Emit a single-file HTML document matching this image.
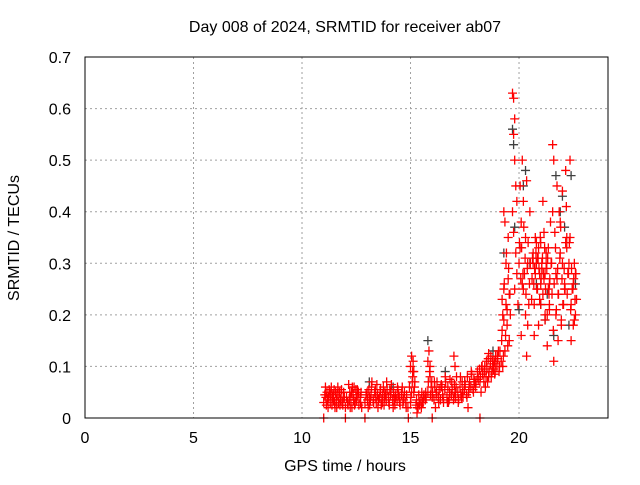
<!DOCTYPE html>
<html><head><meta charset="utf-8"><style>
body{margin:0;background:#fff;}
svg text{font-family:"Liberation Sans",sans-serif;font-size:16px;fill:#000;}
</style></head><body>
<svg id="chart" width="640" height="480" xmlns="http://www.w3.org/2000/svg">
<text x="345" y="32" text-anchor="middle">Day 008 of 2024, SRMTID for receiver ab07</text>
<text x="345" y="471" text-anchor="middle">GPS time / hours</text>
<text transform="translate(19,238) rotate(-90)" text-anchor="middle">SRMTID / TECUs</text>
<g id="grid"></g><g id="ticks"></g><g id="grey"></g><g id="red"></g>
<rect x="85" y="57" width="523" height="361" fill="none" stroke="#000" stroke-width="1"/>
</svg>
<script>
const xTicks=[0,5,10,15,20];
const yTicks=[0,0.1,0.2,0.3,0.4,0.5,0.6,0.7];
const yTickLabels=["0","0.1","0.2","0.3","0.4","0.5","0.6","0.7"];
// red series [hour, TECU]
const redT=[11.0,11.1,11.15,11.2,11.3,11.35,11.4,11.5,11.55,11.6,11.7,11.8,11.85,11.9,12.0,11.25,11.45,11.65,11.75,
12.1,12.2,12.25,12.3,12.4,12.45,12.5,12.6,12.7,12.75,12.15,12.35,12.55,
12.9,13.0,13.05,13.1,13.2,13.3,13.35,13.4,13.5,13.6,13.7,13.75,13.8,13.9,14.0,14.1,14.2,14.3,14.4,14.5,14.6,14.7,14.8,13.15,13.45,13.65,13.85,14.05,14.25,14.45,14.65,
14.95,15.0,15.05,15.1,15.15,15.2,15.0,15.1,15.3,15.4,15.5,15.6,15.7,15.35,15.55,
15.8,15.85,15.9,15.95,15.8,15.9,16.0,16.1,16.2,16.3,16.4,16.5,16.6,16.7,16.8,16.9,17.0,17.1,17.2,17.3,17.4,17.5,17.6,17.7,17.8,17.9,16.15,16.45,16.75,17.05,17.35,17.65,17.95,17.0,17.05,
18.0,18.1,18.2,18.3,18.4,18.5,18.6,18.7,18.8,18.9,19.0,19.1,18.25,18.55,18.85,19.05,18.45,18.75,
19.2,19.25,19.3,19.3,19.35,19.4,19.4,19.45,19.5,19.5,19.55,19.6,19.25,19.35,
19.7,19.75,19.8,19.75,19.8,19.85,19.9,19.7,19.75,19.85,19.9,19.8,19.95,
20.0,20.05,20.1,20.15,20.2,20.2,20.3,20.3,20.35,20.4,20.45,20.5,20.1,20.25,20.4,20.05,20.15,20.35,
20.6,20.65,20.7,20.75,20.8,20.85,20.9,20.95,21.0,21.05,21.1,21.15,21.2,21.25,21.3,21.35,21.4,21.45,20.7,20.9,21.0,21.2,21.3,20.65,20.8,21.1,21.4,
21.5,21.55,21.6,21.65,21.7,21.75,21.8,21.85,21.9,21.95,22.0,22.05,22.1,22.15,22.2,22.25,22.3,21.6,21.7,21.8,21.9,22.0,22.1,22.2,21.55,21.75,21.95,22.15,
22.35,22.4,22.45,22.5,22.55,22.6,22.65,22.4,22.5,22.6,22.35,22.55,
11.0,12.0,12.9,14.9,16.0,18.2];
const redV=[0.03,0.04,0.05,0.02,0.03,0.06,0.04,0.03,0.05,0.02,0.04,0.05,0.03,0.04,0.02,0.055,0.035,0.06,0.025,
0.03,0.05,0.04,0.02,0.06,0.03,0.04,0.05,0.03,0.02,0.065,0.045,0.055,
0.03,0.05,0.02,0.04,0.06,0.03,0.05,0.04,0.02,0.05,0.03,0.06,0.04,0.07,0.03,0.05,0.02,0.04,0.06,0.03,0.05,0.04,0.02,0.035,0.065,0.025,0.045,0.055,0.035,0.045,0.03,
0.06,0.1,0.12,0.08,0.05,0.07,0.03,0.09,0.01,0.03,0.02,0.04,0.05,0.02,0.03,
0.11,0.13,0.08,0.06,0.05,0.1,0.04,0.07,0.05,0.03,0.06,0.04,0.08,0.03,0.05,0.07,0.04,0.06,0.03,0.08,0.05,0.07,0.04,0.06,0.09,0.05,0.02,0.06,0.03,0.05,0.04,0.02,0.07,0.12,0.1,
0.06,0.08,0.07,0.1,0.09,0.11,0.08,0.12,0.1,0.09,0.12,0.1,0.05,0.07,0.11,0.13,0.06,0.09,
0.15,0.2,0.4,0.25,0.13,0.3,0.22,0.18,0.35,0.27,0.24,0.2,0.1,0.38,
0.63,0.62,0.58,0.55,0.5,0.45,0.42,0.4,0.36,0.32,0.28,0.25,0.22,
0.3,0.45,0.38,0.5,0.42,0.25,0.35,0.2,0.46,0.3,0.22,0.4,0.16,0.28,0.18,0.33,0.26,0.12,
0.27,0.32,0.22,0.35,0.3,0.25,0.33,0.28,0.34,0.3,0.24,0.36,0.28,0.3,0.2,0.33,0.26,0.38,0.16,0.18,0.26,0.2,0.14,0.3,0.34,0.42,0.22,
0.3,0.53,0.5,0.36,0.28,0.45,0.24,0.4,0.32,0.19,0.3,0.22,0.26,0.48,0.35,0.28,0.3,0.11,0.2,0.15,0.38,0.44,0.25,0.33,0.4,0.27,0.18,0.34,
0.5,0.22,0.25,0.18,0.3,0.28,0.23,0.15,0.26,0.2,0.35,0.19,
0,0,0,0,0,0];
// additional red observations (dense band)
const redT2=[11.05,11.12,11.22,11.28,11.38,11.42,11.48,11.58,11.62,11.68,11.72,11.78,11.82,11.88,11.95,11.08,11.18,11.33,11.52,11.92,
12.05,12.12,12.18,12.28,12.38,12.42,12.48,12.52,12.58,12.62,12.68,12.72,12.22,12.32,
12.95,13.02,13.08,13.12,13.18,13.22,13.28,13.38,13.42,13.48,13.52,13.58,13.62,13.68,13.72,13.78,13.82,13.88,13.92,13.98,14.02,14.08,14.12,14.18,14.22,14.28,14.32,14.38,14.42,14.48,14.52,14.58,14.62,14.68,14.72,14.78,14.82,14.88,
15.02,15.08,15.12,15.18,15.25,15.28,15.32,15.38,15.42,15.48,15.52,15.58,15.62,15.68,15.72,15.05,15.15,
15.82,15.88,15.92,15.98,16.02,16.08,16.12,16.18,16.22,16.28,16.32,16.38,16.42,16.48,16.52,16.58,16.62,16.68,16.72,16.78,16.82,16.88,16.92,16.98,17.02,17.08,17.12,17.18,17.22,17.28,17.32,17.38,17.42,17.48,17.52,17.58,17.62,17.68,17.72,17.78,17.82,17.88,17.92,17.98,
18.02,18.08,18.12,18.18,18.22,18.28,18.32,18.38,18.42,18.48,18.52,18.58,18.62,18.68,18.72,18.78,18.82,18.88,18.92,18.98,19.02,19.08,19.12,19.18,18.6,18.9,
19.22,19.28,19.32,19.38,19.42,19.48,19.52,19.58,19.22,19.3,19.45,19.55,
20.02,20.08,20.12,20.18,20.22,20.28,20.32,20.38,20.42,20.48,20.52,20.58,
20.62,20.68,20.72,20.78,20.82,20.88,20.92,20.98,21.02,21.08,21.12,21.18,21.22,21.28,21.32,21.38,21.42,21.48,20.75,20.85,20.95,21.05,21.15,21.25,21.35,20.8,21.0,21.2,21.4,
21.52,21.58,21.62,21.68,21.72,21.78,21.82,21.88,21.92,21.98,22.02,22.08,22.12,22.18,22.22,22.28,22.32,22.38,22.42,22.48,22.52,22.58,22.62];
const redV2=[0.045,0.025,0.04,0.05,0.025,0.045,0.055,0.035,0.045,0.03,0.05,0.035,0.055,0.025,0.04,0.06,0.035,0.045,0.02,0.05,
0.04,0.025,0.035,0.05,0.035,0.025,0.055,0.035,0.045,0.025,0.04,0.05,0.02,0.06,
0.045,0.035,0.055,0.025,0.045,0.07,0.035,0.055,0.03,0.045,0.035,0.04,0.055,0.035,0.045,0.025,0.05,0.035,0.055,0.04,0.025,0.045,0.065,0.035,0.05,0.025,0.045,0.035,0.055,0.04,0.025,0.045,0.06,0.035,0.05,0.03,0.045,0.02,
0.04,0.07,0.11,0.06,0.025,0.035,0.02,0.045,0.025,0.035,0.05,0.03,0.045,0.035,0.04,0.05,0.09,
0.07,0.09,0.045,0.07,0.05,0.035,0.06,0.045,0.07,0.04,0.055,0.035,0.065,0.045,0.03,0.055,0.07,0.04,0.06,0.035,0.075,0.045,0.055,0.035,0.065,0.04,0.08,0.05,0.035,0.06,0.045,0.07,0.04,0.055,0.065,0.045,0.08,0.05,0.07,0.06,0.085,0.055,0.075,0.065,
0.07,0.09,0.075,0.095,0.08,0.1,0.085,0.07,0.1,0.08,0.095,0.115,0.09,0.105,0.08,0.11,0.095,0.085,0.12,0.1,0.115,0.09,0.13,0.11,0.125,0.105,
0.17,0.12,0.26,0.16,0.32,0.14,0.29,0.24,0.23,0.19,0.21,0.15,
0.34,0.27,0.33,0.28,0.37,0.31,0.24,0.29,0.34,0.26,0.3,0.23,
0.31,0.26,0.29,0.32,0.25,0.31,0.29,0.35,0.27,0.31,0.28,0.33,0.25,0.29,0.31,0.24,0.27,0.3,0.28,0.31,0.23,0.29,0.27,0.32,0.25,0.3,0.22,0.19,0.21,0.24,0.17,
0.26,0.33,0.21,0.29,0.24,0.31,0.37,0.27,0.22,0.29,0.25,0.41,0.24,0.28,0.34,0.21,0.29,0.25,0.27,0.23,0.28,0.21,0.29];
// grey series [hour, TECU]
const greyT=[13.1,14.2,15.8,16.6,17.5,18.8,19.3,19.7,19.75,19.8,20.0,20.3,20.5,20.8,21.0,21.3,21.6,21.7,21.9,22.0,22.1,22.3,22.4,22.6,20.2,21.2];
const greyV=[0.07,0.06,0.15,0.09,0.07,0.13,0.32,0.56,0.53,0.37,0.21,0.48,0.3,0.26,0.22,0.24,0.16,0.47,0.4,0.43,0.37,0.18,0.47,0.26,0.45,0.19];

const X=t=>85+t*(523/24.1);
const Y=v=>418-v*(361/0.7);
const NS="http://www.w3.org/2000/svg";
function mk(tag,parent){const e=document.createElementNS(NS,tag);parent.appendChild(e);return e;}
const grid=document.getElementById('grid'),ticks=document.getElementById('ticks');
xTicks.forEach(t=>{
 const x=X(t);
 if(t>0){const l=mk('line',grid);
 
 
 l.setAttribute('x1',x);l.setAttribute('x2',x);l.setAttribute('y1',57);l.setAttribute('y2',418);
 l.setAttribute('stroke','#a0a0a0');l.setAttribute('stroke-dasharray','2,3');}
 const tx=mk('text',ticks);
 
 
 tx.setAttribute('x',x);tx.setAttribute('y',443);tx.setAttribute('text-anchor','middle');tx.textContent=t;
});
yTicks.forEach((v,i)=>{
 const y=Y(v);
 if(v>0&&v<0.7){const l=mk('line',grid);
 
 
 l.setAttribute('x1',85);l.setAttribute('x2',608);l.setAttribute('y1',y);l.setAttribute('y2',y);
 l.setAttribute('stroke','#a0a0a0');l.setAttribute('stroke-dasharray','2,3');}
 const tx=mk('text',ticks);
 
 
 tx.setAttribute('x',71);tx.setAttribute('y',y+6);tx.setAttribute('text-anchor','end');tx.textContent=yTickLabels[i];
});
function plot(ts,vs,gid,color,name){
 const g=document.getElementById(gid);
 ts.forEach((t,i)=>{
  const x=X(t),y=Y(vs[i]);
  const p=mk('path',g);
  
  
  p.setAttribute('d',`M${x-4.5},${y}H${x+4.5}M${x},${y-4.5}V${y+4.5}`);
  p.setAttribute('stroke',color);p.setAttribute('stroke-width','1.3');
 });
}
plot(greyT,greyV,'grey','#404040','grey-point');
plot(redT,redV,'red','#ff0000','red-point');
plot(redT2,redV2,'red','#ff0000','red-point');
</script>
</body></html>
